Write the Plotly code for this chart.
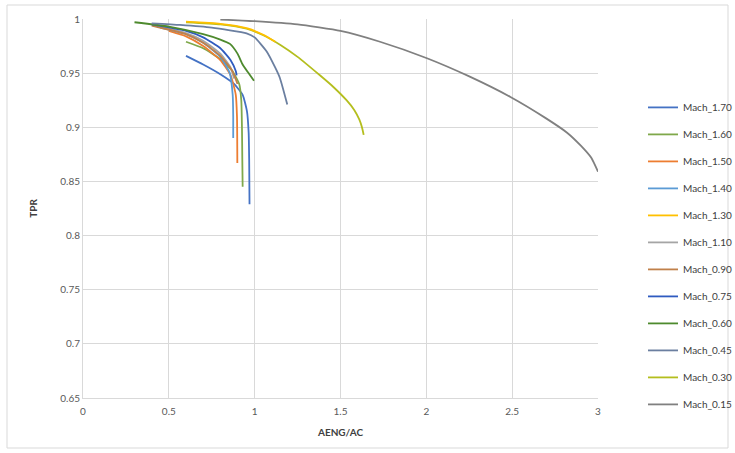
import plotly.graph_objects as go

# ---- data ----
names = ["Mach_1.70", "Mach_1.60", "Mach_1.50", "Mach_1.40", "Mach_1.30", "Mach_1.10",
         "Mach_0.90", "Mach_0.75", "Mach_0.60", "Mach_0.45", "Mach_0.30", "Mach_0.15"]
colors = ["#4472C4", "#7FA84A", "#ED7D31", "#5B9BD5", "#FFC000", "#A5A5A5",
          "#C0804A", "#2F5BC0", "#4E8A2E", "#6B7FA0", "#B4BE1E", "#808080"]

x_m170 = [0.60, 0.70, 0.80, 0.88, 0.93, 0.955, 0.965, 0.968, 0.97]
y_m170 = [0.966, 0.958, 0.949, 0.940, 0.930, 0.915, 0.895, 0.870, 0.829]
x_m160 = [0.60, 0.70, 0.80, 0.87, 0.91, 0.922, 0.926, 0.928, 0.93]
y_m160 = [0.979, 0.973, 0.963, 0.952, 0.940, 0.925, 0.900, 0.870, 0.845]
x_m150 = [0.50, 0.60, 0.70, 0.80, 0.86, 0.89, 0.897, 0.899]
y_m150 = [0.989, 0.984, 0.975, 0.962, 0.948, 0.930, 0.910, 0.867]
x_m140 = [0.45, 0.60, 0.70, 0.80, 0.855, 0.872, 0.875, 0.875]
y_m140 = [0.992, 0.986, 0.978, 0.965, 0.950, 0.930, 0.910, 0.890]
x_m130 = [0.60, 0.80, 0.953, 1.05, 1.12]
y_m130 = [0.9975, 0.9955, 0.9915, 0.9855, 0.9790]
x_m110 = [0.45, 0.60, 0.70, 0.80, 0.86, 0.88]
y_m110 = [0.993, 0.987, 0.980, 0.968, 0.955, 0.945]
x_m090 = [0.40, 0.60, 0.70, 0.80, 0.87, 0.90]
y_m090 = [0.994, 0.986, 0.978, 0.966, 0.952, 0.940]
x_m075 = [0.40, 0.60, 0.70, 0.80, 0.86, 0.89, 0.895]
y_m075 = [0.995, 0.989, 0.983, 0.973, 0.962, 0.952, 0.948]
x_m060 = [0.30, 0.50, 0.70, 0.80, 0.856, 0.90, 0.93, 0.96, 0.996]
y_m060 = [0.997, 0.993, 0.986, 0.981, 0.977, 0.968, 0.958, 0.951, 0.943]
x_m045 = [0.40, 0.565, 0.75, 0.953, 1.00, 1.07, 1.12, 1.147, 1.19]
y_m045 = [0.996, 0.9945, 0.992, 0.9868, 0.983, 0.970, 0.955, 0.9455, 0.921]
x_m030 = [0.60, 0.80, 0.953, 1.05, 1.15, 1.25, 1.38, 1.46, 1.535, 1.58, 1.61, 1.625, 1.635]
y_m030 = [0.997, 0.995, 0.991, 0.985, 0.976, 0.965, 0.948, 0.937, 0.925, 0.916, 0.907, 0.900, 0.893]
x_m015 = [0.80, 1.00, 1.25, 1.50, 1.73, 2.00, 2.25, 2.49, 2.70, 2.82, 2.90, 2.96, 3.00]
y_m015 = [0.9995, 0.998, 0.995, 0.989, 0.979, 0.964, 0.947, 0.928, 0.908, 0.895, 0.883, 0.872, 0.859]

xs = [x_m170, x_m160, x_m150, x_m140, x_m130, x_m110, x_m090, x_m075, x_m060, x_m045, x_m030, x_m015]
ys = [y_m170, y_m160, y_m150, y_m140, y_m130, y_m110, y_m090, y_m075, y_m060, y_m045, y_m030, y_m015]

x_ticks = [0, 0.5, 1, 1.5, 2, 2.5, 3]
x_tick_text = ["0", "0.5", "1", "1.5", "2", "2.5", "3"]
y_ticks = [0.65, 0.7, 0.75, 0.8, 0.85, 0.9, 0.95, 1]
y_tick_text = ["0.65", "0.7", "0.75", "0.8", "0.85", "0.9", "0.95", "1"]

# draw order: gold Mach_1.30 last so it shows on top of Mach_0.30
draw_order = [0, 1, 2, 3, 5, 6, 7, 8, 9, 10, 11, 4]

fig = go.Figure()
for i in draw_order:
    fig.add_trace(go.Scatter(
        x=xs[i], y=ys[i], mode="lines", name=names[i],
        line=dict(color=colors[i], width=1.8, shape="spline", smoothing=0.5),
        legendrank=i + 1, legendgroup=names[i],
    ))

font_family = "Lato, 'Open Sans', sans-serif"
fig.update_layout(
    width=735, height=453,
    margin=dict(l=83, r=137, t=19, b=55, autoexpand=False),
    paper_bgcolor="white", plot_bgcolor="white",
    font=dict(family=font_family, size=10, color="#595959"),
    legend=dict(x=(643 - 83) / 515, xanchor="left", y=0.805, yanchor="top",
                traceorder="grouped", tracegroupgap=8,
                font=dict(size=10, color="#404040"), bgcolor="rgba(0,0,0,0)"),
    xaxis=dict(range=[0, 3], tickvals=x_ticks, ticktext=x_tick_text,
               showgrid=True, gridcolor="#D9D9D9", gridwidth=1,
               zeroline=False, showline=True, linecolor="#D9D9D9",
               ticks="outside", ticklen=4, tickcolor="rgba(0,0,0,0)",
               title=dict(text="<b>AENG/AC</b>", font=dict(size=10, color="#404040"), standoff=12)),
    yaxis=dict(range=[0.65, 1], tickvals=y_ticks, ticktext=y_tick_text,
               showgrid=True, gridcolor="#D9D9D9", gridwidth=1,
               zeroline=False, showline=True, linecolor="#D9D9D9",
               ticks="", ticklen=0,
               title=dict(text="<b>TPR</b>", font=dict(size=10, color="#404040"), standoff=20)),
    shapes=[dict(type="rect", xref="paper", yref="paper",
                 x0=-76 / 515, x1=645 / 515, y0=-50 / 379, y1=(379 + 14) / 379,
                 line=dict(color="#D9D9D9", width=1), fillcolor="rgba(0,0,0,0)", layer="below")],
)

fig.write_html("out.html")
